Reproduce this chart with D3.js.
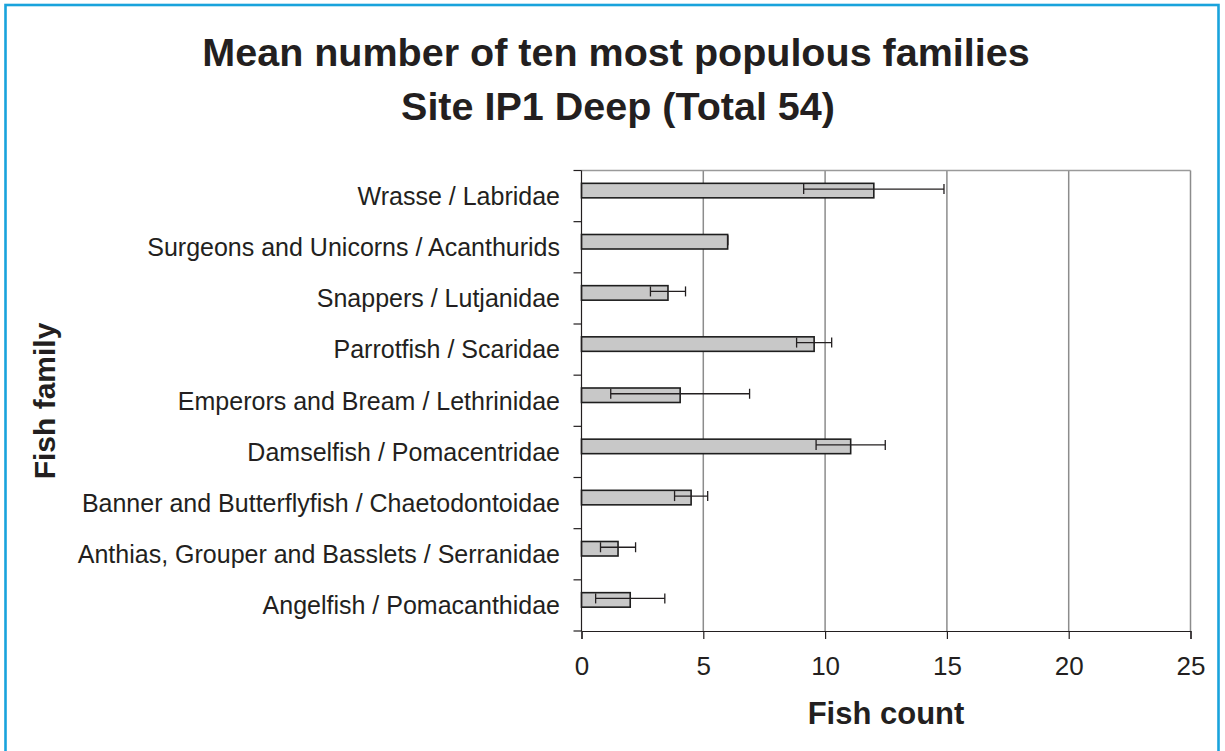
<!DOCTYPE html>
<html>
<head>
<meta charset="utf-8">
<script src="https://cdn.jsdelivr.net/npm/d3@7"></script>
<style>
  body { margin: 0; background: #fff; }
  svg { display: block; font-family: "Liberation Sans", Arial, sans-serif; }
</style>
</head>
<body>
<div id="chart"></div>
<script>
// Mean number of ten most populous families - Site IP1 Deep
const families = [
    'Wrasse / Labridae',
    'Surgeons and Unicorns / Acanthurids',
    'Snappers / Lutjanidae',
    'Parrotfish / Scaridae',
    'Emperors and Bream / Lethrinidae',
    'Damselfish / Pomacentridae',
    'Banner and Butterflyfish / Chaetodontoidae',
    'Anthias, Grouper and Basslets / Serranidae',
    'Angelfish / Pomacanthidae'
];
const meanCounts = [12, 6, 3.55, 9.55, 4.05, 11.05, 4.5, 1.5, 2.0];
const errors = [2.88, 0, 0.72, 0.72, 2.85, 1.42, 0.68, 0.72, 1.42];
const xTicks = [0, 5, 10, 15, 20, 25];

const width = 1225, height = 751;
const plot = { left: 581.5, right: 1190.5, top: 170.5, bottom: 631 };

const svg = d3.select('#chart')
    .append('svg')
    .attr('width', width)
    .attr('height', height);

// 파란 테두리
svg.append('rect')
    .attr('x', 5.5)
    .attr('y', 5)
    .attr('width', 1213)
    .attr('height', 760)
    .style('fill', 'none')
    .style('stroke', '#19a3dc')
    .style('stroke-width', 2.6);

const x = d3.scaleLinear()
    .domain([0, 25])
    .range([plot.left, plot.right]);

const y = d3.scaleBand()
    .domain(families)
    .range([plot.top, plot.bottom]);

// 제목
const title = svg.append('text')
    .attr('text-anchor', 'middle')
    .style('font-weight', 'bold')
    .style('font-size', '39.5px')
    .style('fill', '#231f20');
title.append('tspan').attr('x', 616).attr('y', 66).text('Mean number of ten most populous families');
title.append('tspan').attr('x', 618).attr('y', 120).text('Site IP1 Deep (Total 54)');

// 그리드
svg.append('g')
    .selectAll('line')
    .data(xTicks.slice(1))
    .join('line')
    .attr('x1', d => x(d))
    .attr('x2', d => x(d))
    .attr('y1', plot.top)
    .attr('y2', plot.bottom)
    .style('stroke', '#8c8c8c')
    .style('stroke-width', 1.5);

svg.append('line')
    .attr('x1', plot.left)
    .attr('x2', plot.right)
    .attr('y1', plot.top)
    .attr('y2', plot.top)
    .style('stroke', '#9a9a9a')
    .style('stroke-width', 1.5);

// 막대
const barH = 14.5, barShift = -5.5;
const bars = svg.append('g');
bars.selectAll('rect')
    .data(families)
    .join('rect')
    .attr('x', x(0))
    .attr('y', d => y(d) + y.bandwidth() / 2 + barShift - barH / 2)
    .attr('width', (d, i) => x(meanCounts[i]) - x(0))
    .attr('height', barH)
    .style('fill', '#c8c8c8')
    .style('stroke', '#1e1e1e')
    .style('stroke-width', 1.6);

// 오차 막대
const errG = svg.append('g')
    .style('stroke', '#231f20')
    .style('stroke-width', 1.3);
families.forEach((f, i) => {
    const cy = y(f) + y.bandwidth() / 2 + barShift - 1.5;
    const lo = x(meanCounts[i] - errors[i]);
    const hi = x(meanCounts[i] + errors[i]);
    errG.append('line').attr('x1', lo).attr('x2', hi).attr('y1', cy).attr('y2', cy);
    [lo, hi].forEach(px => {
        errG.append('line').attr('x1', px).attr('x2', px).attr('y1', cy - 5).attr('y2', cy + 5);
    });
});

// X 축
const xAxis = svg.append('g')
    .attr('transform', `translate(0,${plot.bottom})`)
    .call(d3.axisBottom(x).tickValues(xTicks).tickSize(8).tickPadding(18));
xAxis.select('.domain').style('stroke', '#231f20').style('stroke-width', 1.2);
xAxis.selectAll('.tick line').style('stroke', '#231f20').style('stroke-width', 1.2);
xAxis.selectAll('text')
    .style('font-size', '26px')
    .style('fill', '#231f20')
    .style('font-family', '"Liberation Sans", Arial, sans-serif');

// Y 축
const yAxisG = svg.append('g');
yAxisG.append('line')
    .attr('x1', plot.left).attr('x2', plot.left)
    .attr('y1', plot.top).attr('y2', plot.bottom)
    .style('stroke', '#231f20')
    .style('stroke-width', 1.2);
yAxisG.selectAll('.ytick')
    .data(d3.range(families.length + 1))
    .join('line')
    .attr('class', 'ytick')
    .attr('x1', plot.left - 8).attr('x2', plot.left)
    .attr('y1', i => plot.top + i * y.step())
    .attr('y2', i => plot.top + i * y.step())
    .style('stroke', '#231f20')
    .style('stroke-width', 1.2);
yAxisG.selectAll('.ylabel')
    .data(families)
    .join('text')
    .attr('class', 'ylabel')
    .attr('x', 560)
    .attr('y', d => y(d) + y.bandwidth() / 2)
    .attr('dy', '0.35em')
    .attr('text-anchor', 'end')
    .style('font-size', '25px')
    .style('fill', '#231f20')
    .text(d => d);

// 축 제목
svg.append('text')
    .attr('x', 886)
    .attr('y', 724)
    .attr('text-anchor', 'middle')
    .style('font-weight', 'bold')
    .style('font-size', '31px')
    .style('fill', '#231f20')
    .text('Fish count');

svg.append('text')
    .attr('transform', 'translate(55,401) rotate(-90)')
    .attr('text-anchor', 'middle')
    .style('font-weight', 'bold')
    .style('font-size', '30px')
    .style('fill', '#231f20')
    .text('Fish family');
</script>
</body>
</html>
